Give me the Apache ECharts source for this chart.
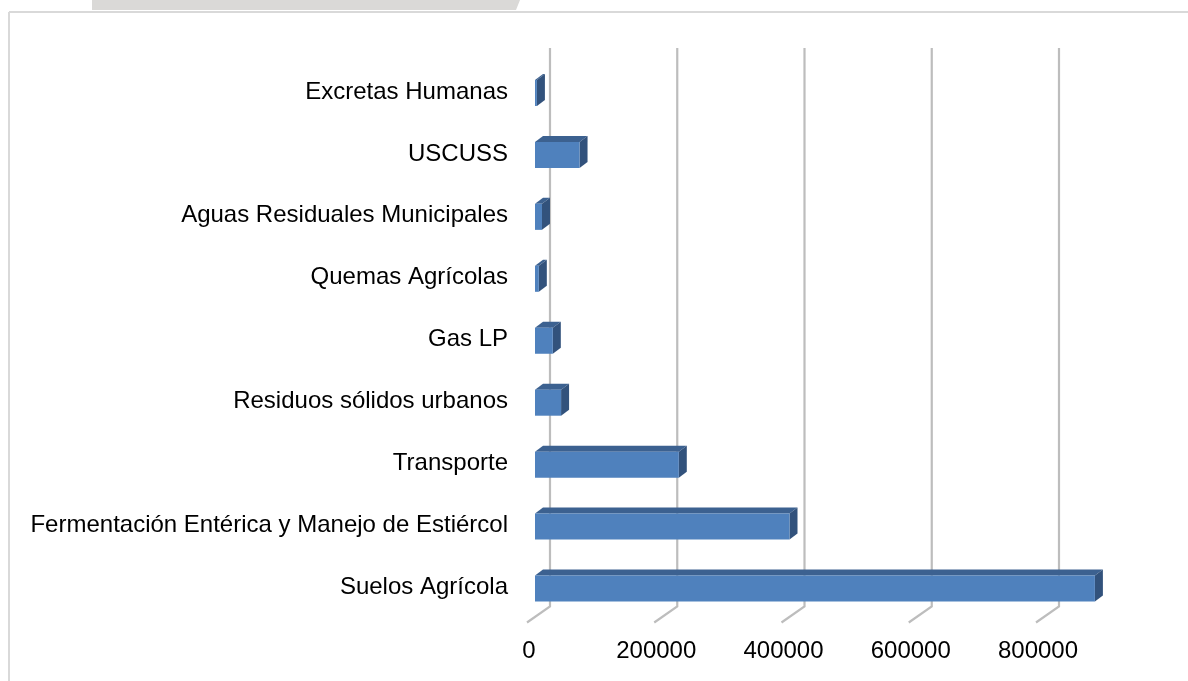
<!DOCTYPE html>
<html>
<head>
<meta charset="utf-8">
<script src="https://cdn.jsdelivr.net/npm/echarts@6/dist/echarts.min.js"></script>
<style>
html,body{margin:0;padding:0;background:#fff;}
#chart{width:1188px;height:681px;}
</style>
</head>
<body>
<div id="chart"></div>
<script>
// Categories listed bottom to top
const categories = [
  'Suelos Agrícola',
  'Fermentación Entérica y Manejo de Estiércol',
  'Transporte',
  'Residuos sólidos urbanos',
  'Gas LP',
  'Quemas Agrícolas',
  'Aguas Residuales Municipales',
  'USCUSS',
  'Excretas Humanas'
];
const values = [880000, 400000, 226000, 41000, 28000, 6000, 11000, 70000, 3000];
const tickValues = [0, 200000, 400000, 600000, 800000];
const axisMin = 0;
const axisMax = 1000000;
const axisInterval = 200000;

const DX = 8, DY = 6;          // bar depth offset
const WALL_DX = 15, WALL_TOP = 13, WALL_BOTTOM = 12; // back wall offsets
const FLOOR_DX = -23, FLOOR_DY = 16;

const chart = echarts.init(document.getElementById('chart'), null, {renderer: 'canvas'});

const option = {
  animation: false,
  backgroundColor: '#ffffff',
  textStyle: {fontFamily: 'Liberation Sans, Arial, sans-serif'},
  graphic: [
    {type: 'polygon', shape: {points: [[92, 0], [520, 0], [516, 10], [92, 10]]}, style: {fill: '#dad9d7'}, z: 0},
    {type: 'line', shape: {x1: 9, y1: 12, x2: 1188, y2: 12}, style: {stroke: '#d9d9d9', lineWidth: 2}, z: 0},
    {type: 'line', shape: {x1: 9, y1: 12, x2: 9, y2: 681}, style: {stroke: '#d9d9d9', lineWidth: 2}, z: 0}
  ],
  grid: {left: 535, right: 16.75, top: 61, bottom: 62.5, containLabel: false},
  xAxis: {
    type: 'value',
    min: axisMin,
    max: axisMax,
    interval: axisInterval,
    axisLine: {show: false},
    axisTick: {show: false},
    splitLine: {show: false},
    axisLabel: {
      customValues: tickValues,
      formatter: function (v) { return String(v); },
      color: '#000',
      fontSize: 24,
      fontFamily: 'Liberation Sans, Arial, sans-serif',
      margin: 21,
      padding: [0, 12, 0, 0]
    }
  },
  yAxis: {
    type: 'category',
    data: categories,
    axisLine: {show: false},
    axisTick: {show: false},
    splitLine: {show: false},
    axisLabel: {
      color: '#000',
      fontSize: 24,
      fontFamily: 'Liberation Sans, Arial, sans-serif',
      margin: 27
    }
  },
  series: [
    {
      name: 'grid',
      type: 'custom',
      silent: true,
      z: 1,
      data: tickValues.map(v => [v, 0]),
      encode: {x: 0, y: 1},
      renderItem: function (params, api) {
        const cs = params.coordSys;
        const x = api.coord([api.value(0), 0])[0] + WALL_DX;
        const yTop = cs.y - WALL_TOP;
        const yBot = cs.y + cs.height - WALL_BOTTOM;
        return {
          type: 'polyline',
          shape: {points: [[x, yTop], [x, yBot], [x + FLOOR_DX, yBot + FLOOR_DY]]},
          style: {stroke: '#bdbdbd', lineWidth: 2.2, fill: null}
        };
      }
    },
    {
      name: 'bars',
      type: 'custom',
      z: 2,
      data: values.map((v, i) => [v, i]),
      encode: {x: 0, y: 1},
      renderItem: function (params, api) {
        const idx = api.value(1);
        const v = api.value(0);
        const p0 = api.coord([0, idx]);
        const p1 = api.coord([v, idx]);
        const band = api.size([0, 1])[1];
        const h = band * 0.42;
        const x0 = p0[0], x1 = Math.max(p1[0], x0 + 1.5);
        const yT = p0[1] - h / 2 + 1, yB = p0[1] + h / 2 + 1;
        return {
          type: 'group',
          children: [
            {type: 'polygon', shape: {points: [[x0, yT], [x0 + DX, yT - DY], [x1 + DX, yT - DY], [x1, yT]]}, style: {fill: '#3c6190'}},
            {type: 'polygon', shape: {points: [[x1, yT], [x1 + DX, yT - DY], [x1 + DX, yB - DY], [x1, yB]]}, style: {fill: '#32527c'}},
            {type: 'rect', shape: {x: x0, y: yT, width: x1 - x0, height: yB - yT}, style: {fill: '#4f81bd'}}
          ]
        };
      }
    }
  ]
};
chart.setOption(option);
</script>
</body>
</html>
